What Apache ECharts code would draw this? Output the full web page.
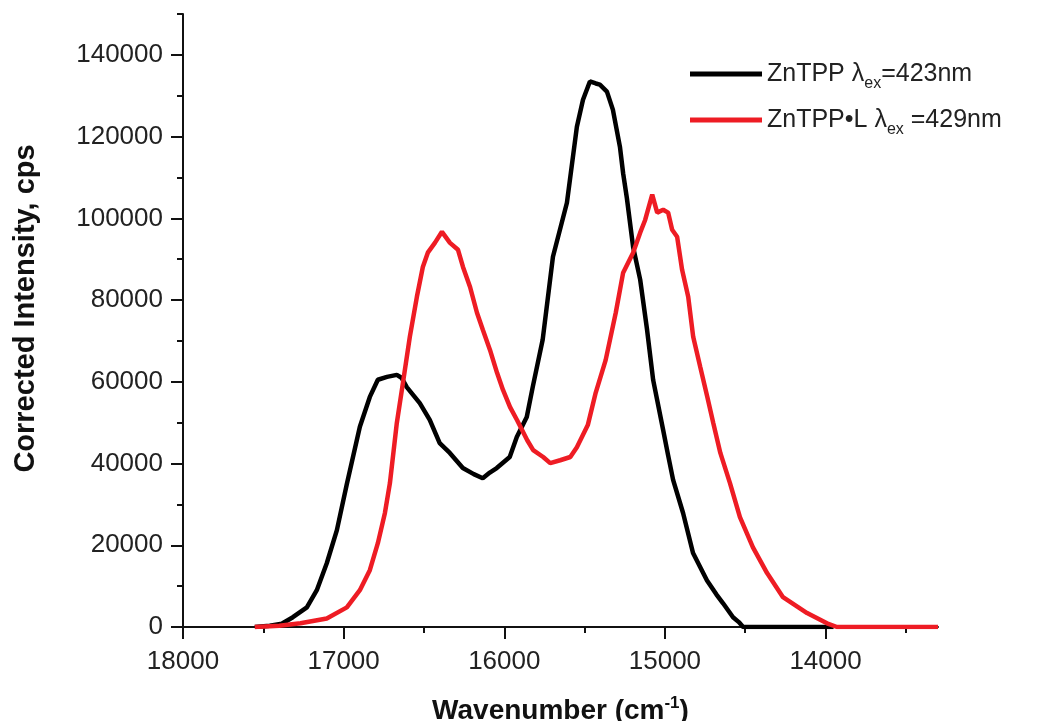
<!DOCTYPE html>
<html>
<head>
<meta charset="utf-8">
<script src="https://cdn.jsdelivr.net/npm/echarts@6/dist/echarts.min.js"></script>
<style>
html,body{margin:0;padding:0;background:#fff;}
#chart{width:1050px;height:721px;}
</style>
</head>
<body>
<div id="chart"></div>
<script>
// ZnTPP (lambda_ex = 423 nm) emission
const znWn = [17553,17460,17385,17316,17229,17167,17105,17042,16980,16899,16837,16787,16730,16669,16640,16607,16526,16464,16402,16339,16258,16190,16134,16090,16047,15966,15922,15860,15823,15761,15697,15610,15548,15510,15467,15430,15405,15361,15324,15280,15260,15237,15198,15154,15111,15073,15011,14980,14949,14887,14825,14738,14680,14638,14576,14540,14513,13950];
const znI  = [0,300,800,2400,4800,9000,15600,23700,35000,49000,56300,60500,61200,61700,61000,58700,54800,50700,45000,42600,38900,37400,36400,37800,38900,41600,46500,51400,58700,70300,90600,103800,122400,129000,133500,133000,132700,131000,126600,117500,111000,105000,93000,85000,72700,60400,48200,42000,36000,27900,18100,11400,8000,5800,2400,1200,0,0];
// ZnTPP•L (lambda_ex = 429 nm) emission
const znLWn = [17553,17400,17269,17105,16980,16899,16837,16787,16743,16712,16669,16631,16588,16544,16507,16476,16432,16388,16338,16288,16257,16213,16170,16133,16089,16045,16008,15964,15920,15857,15820,15758,15714,15652,15589,15548,15480,15431,15369,15306,15260,15198,15154,15123,15079,15048,15011,14980,14955,14924,14893,14855,14824,14780,14736,14699,14655,14595,14533,14452,14364,14265,14115,13991,13929,13300];
const znLI  = [0,300,900,2100,4800,9000,13900,20500,27900,35200,49900,59700,71000,80800,88100,91600,94000,96700,94000,92300,88100,83200,76900,72700,67800,62200,58000,53800,50600,45700,43300,41600,40100,40800,41600,44000,49400,57300,65300,76900,86700,91600,96500,99600,105800,101400,102100,101400,97200,95500,87400,80800,71000,63600,56300,49900,42600,35200,26900,19500,13200,7300,3400,900,0,0];

const seriesNames = ['ZnTPP λex=423nm', 'ZnTPP•L λex =429nm'];
const xLabels = [18000,17000,16000,15000,14000];
const xMinor = [17500,16500,15500,14500,13500];
const yLabels = [0,20000,40000,60000,80000,100000,120000,140000];
const yMinor = [10000,30000,50000,70000,90000,110000,130000,150000];

const FONT = 'Liberation Sans, Arial, Helvetica, sans-serif';
const AX = '#111';

function pairs(xs, ys){ return xs.map((x,i)=>[x, ys[i]]); }
function plain(v){ return String(Math.round(v)); }

const chart = echarts.init(document.getElementById('chart'), null, {renderer:'canvas'});

const xBase = {type:'value', inverse:true, min:13300, max:18000, splitLine:{show:false}};
const yBase = {type:'value', min:0, max:150000, splitLine:{show:false}};

chart.setOption({
  animation:false,
  backgroundColor:'#fff',
  grid:{left:183, right:112, top:14, bottom:94, containLabel:false, outerBoundsMode:'none'},
  legend:{
    orient:'vertical', left:685, top:51,
    itemWidth:72, itemHeight:5, itemGap:10, icon:'rect',
    data: seriesNames,
    formatter: function(name){
      if (name === seriesNames[0]) return '{t|ZnTPP λ}{s|ex}{t|=423nm}';
      return '{t|ZnTPP•L λ}{s|ex}{t| =429nm}';
    },
    textStyle:{
      fontFamily:FONT, color:'#222', fontSize:25,
      rich:{
        t:{fontFamily:FONT, fontSize:25, color:'#222', lineHeight:30},
        s:{fontFamily:FONT, fontSize:16, color:'#222', lineHeight:16, padding:[20,0,0,0]}
      }
    }
  },
  xAxis:[
    Object.assign({}, xBase, {
      position:'bottom',
      axisLine:{show:true, onZero:false, lineStyle:{color:AX, width:2}},
      axisTick:{show:true, length:12, lineStyle:{color:AX, width:2}, customValues:xLabels},
      axisLabel:{show:true, customValues:xLabels, formatter:plain, margin:22, fontSize:26, color:'#222', fontFamily:FONT},
      name:'{b|Wavenumber (cm}{sup|-1}{b|)}',
      nameLocation:'middle', nameGap:68,
      nameTextStyle:{
        fontFamily:FONT, fontSize:28, fontWeight:'bold', color:'#111',
        rich:{
          b:{fontFamily:FONT, fontSize:28, fontWeight:'bold', color:'#111', lineHeight:32},
          sup:{fontFamily:FONT, fontSize:17, fontWeight:'bold', color:'#111', lineHeight:17, padding:[0,0,16,0]}
        }
      }
    }),
    Object.assign({}, xBase, {
      position:'bottom',
      axisLine:{show:false, onZero:false},
      axisTick:{show:true, length:6, lineStyle:{color:AX, width:2}, customValues:xMinor},
      axisLabel:{show:false}
    })
  ],
  yAxis:[
    Object.assign({}, yBase, {
      position:'left',
      axisLine:{show:true, onZero:false, lineStyle:{color:AX, width:2}},
      axisTick:{show:true, length:12, lineStyle:{color:AX, width:2}, customValues:yLabels},
      axisLabel:{show:true, customValues:yLabels, formatter:plain, margin:20, fontSize:26, color:'#222', fontFamily:FONT},
      name:'Corrected Intensity, cps',
      nameLocation:'middle', nameGap:143,
      nameTextStyle:{fontFamily:FONT, fontSize:29, fontWeight:'bold', color:'#111', padding:[0,0,0,24]}
    }),
    Object.assign({}, yBase, {
      position:'left',
      axisLine:{show:false, onZero:false},
      axisTick:{show:true, length:6, lineStyle:{color:AX, width:2}, customValues:yMinor},
      axisLabel:{show:false}
    })
  ],
  series:[
    {
      name:seriesNames[0], type:'line', xAxisIndex:0, yAxisIndex:0,
      data:pairs(znWn, znI), showSymbol:false, symbol:'none',
      lineStyle:{color:'#000', width:4.5}, itemStyle:{color:'#000'}, z:2
    },
    {
      name:seriesNames[1], type:'line', xAxisIndex:0, yAxisIndex:0,
      data:pairs(znLWn, znLI), showSymbol:false, symbol:'none',
      lineStyle:{color:'#ee1c24', width:4.5}, itemStyle:{color:'#ee1c24'}, z:3
    }
  ]
});
</script>
</body>
</html>
